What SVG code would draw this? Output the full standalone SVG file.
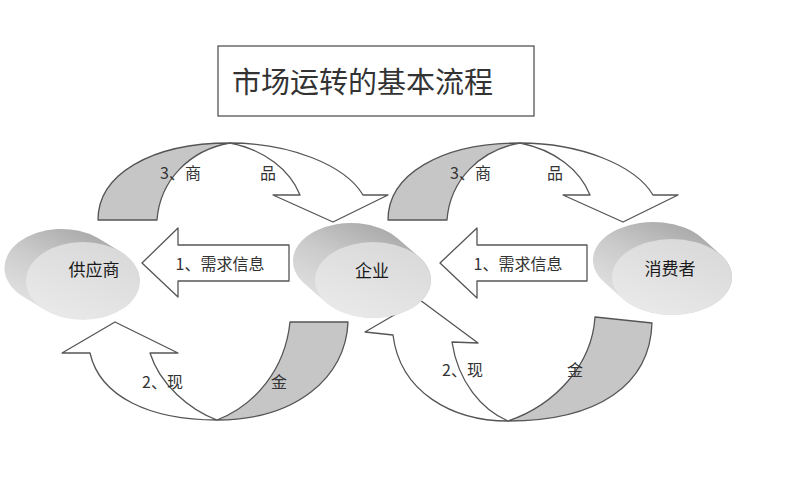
<svg xmlns="http://www.w3.org/2000/svg" width="800" height="500" viewBox="0 0 800 500">
<defs>
<linearGradient id="side" x1="0.75" y1="0" x2="0.15" y2="0.9">
<stop offset="0" stop-color="#a4a4a4"/>
<stop offset="0.5" stop-color="#cbcbcb"/>
<stop offset="1" stop-color="#e4e4e4"/>
</linearGradient>
<linearGradient id="face" x1="0.8" y1="0" x2="0.2" y2="1">
<stop offset="0" stop-color="#d8d8d8"/>
<stop offset="1" stop-color="#eaeaea"/>
</linearGradient>
</defs>
<style>
.arr{stroke:#555;stroke-width:1.3;stroke-linejoin:round;}
.w{fill:#fff;}
.s{fill:#c6c6c6;}
.lbl{font-family:"Noto Sans CJK SC",sans-serif;font-size:16px;fill:#333;}
.nl{font-family:"Noto Sans CJK SC",sans-serif;font-size:17px;fill:#1a1a1a;text-anchor:middle;dominant-baseline:central;}
.side{fill:url(#side);}
.face{fill:url(#face);}
</style>
<rect width="800" height="500" fill="#fff"/>

<g id="title">
<rect x="218" y="46" width="316" height="70" fill="#fff" stroke="#555" stroke-width="1.3"/>
<text x="232" y="80" font-family="Noto Sans CJK SC, sans-serif" font-size="29" fill="#333" dominant-baseline="central">市场运转的基本流程</text>
</g>

<g id="connectors">
<g id="goods1">
<path class="arr s" d="M98,220 C98,175 150,143 230,143 C190,150 160,180 157,220 Z"/>
<path class="arr w" d="M230,143 C290,143 345,165 363,195 L388,195 L333,222 L273,195 L300,195 C290,170 265,150 230,143 Z"/>
<text class="lbl" y="179"><tspan x="160">3、商</tspan><tspan x="260">品</tspan></text>
</g>
<g id="goods2" transform="translate(290,0)">
<path class="arr s" d="M98,220 C98,175 150,143 230,143 C190,150 160,180 157,220 Z"/>
<path class="arr w" d="M230,143 C290,143 345,165 363,195 L388,195 L333,222 L273,195 L300,195 C290,170 265,150 230,143 Z"/>
<text class="lbl" y="179"><tspan x="160">3、商</tspan><tspan x="257">品</tspan></text>
</g>
<g id="demand1">
<path class="arr w" d="M142,263 L178,228 L178,245 L289,245 L289,281 L178,281 L178,297 Z"/>
<text class="lbl" x="220" y="263" text-anchor="middle" dominant-baseline="central">1、需求信息</text>
</g>
<g id="demand2">
<path class="arr w" d="M440,263 L477,228 L477,245 L587,245 L587,281 L477,281 L477,298 Z"/>
<text class="lbl" x="518" y="263" text-anchor="middle" dominant-baseline="central">1、需求信息</text>
</g>
<g id="cash1">
<path class="arr s" d="M217,420 C295,420 346,378 348,322 L290,322 C285,370 255,405 217,420 Z"/>
<path class="arr w" d="M90,353 C100,397 150,420 217,420 C190,410 160,385 150,353 L178,353 L115,322 L62,353 Z"/>
<text class="lbl" y="388"><tspan x="142">2、现</tspan><tspan x="271">金</tspan></text>
</g>
<g id="cash2">
<path class="arr s" d="M508,421 C598,421 650,385 652,323 L595,317 C592,365 555,405 508,421 Z"/>
<path class="arr w" d="M393,335 C400,392 452,421 508,421 C482,410 458,382 452,342 L478,343 L420,300 L365,332 Z"/>
<text class="lbl" y="376"><tspan x="442">2、现</tspan><tspan x="567">金</tspan></text>
</g>
</g>

<g id="supplier">
<path class="side" d="M97.9,237.9 L120.9,251.9 A57,39 0 0 1 45.1,310.1 L22.1,296.1 A57,39 0 0 1 97.9,237.9 Z"/>
<ellipse class="face" cx="83" cy="281" rx="57" ry="39"/>
<text class="nl" x="94" y="268">供应商</text>
</g>

<g id="enterprise">
<path class="side" d="M397.2,238 L419.2,257 A58,38 0 0 1 326.8,303 L304.8,284 A58,38 0 0 1 397.2,238 Z"/>
<ellipse class="face" cx="373" cy="280" rx="58" ry="38"/>
<text class="nl" x="372" y="269">企业</text>
</g>

<g id="consumer">
<path class="side" d="M702,238 L721,255 A60,38 0 0 1 623,299 L604,282 A60,38 0 0 1 702,238 Z"/>
<ellipse class="face" cx="672" cy="277" rx="60" ry="38"/>
<text class="nl" x="670" y="267">消费者</text>
</g>
</svg>
